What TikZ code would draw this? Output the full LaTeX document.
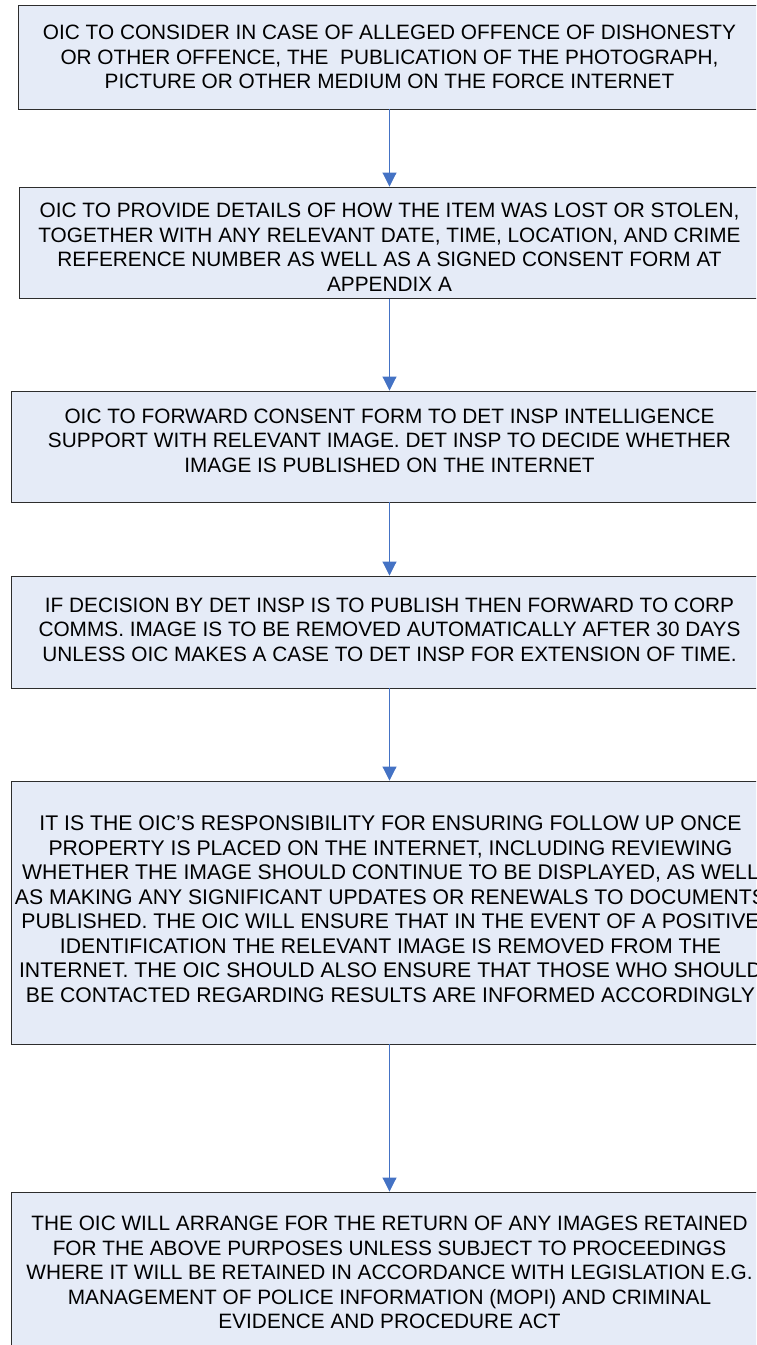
\documentclass[tikz,border=0pt]{standalone}
\usepackage{fontspec}
\setmainfont{Liberation Sans}
\usetikzlibrary{arrows.meta}
\definecolor{boxfill}{RGB}{229,235,247}
\definecolor{boxline}{RGB}{45,45,45}
\definecolor{conncol}{RGB}{68,114,196}
\tikzset{
  box/.style={draw=boxline, fill=boxfill, line width=0.9pt, rectangle, inner sep=0pt},
  txt/.style={align=center, inner sep=0pt, font=\fontsize{20.8}{24.5}\selectfont},
  bigtxt/.style={txt, font=\fontsize{21.2}{24.5}\selectfont},
  conn/.style={draw=conncol, line width=0.9pt, -{Triangle[width=14pt,length=14pt]}}
}
\begin{document}
\begin{tikzpicture}[x=1pt,y=-1pt]
\useasboundingbox (0,0) rectangle (756,1345);
\clip (0,0) rectangle (756,1345);
% boxes (right edges lie beyond the picture)
\node[box, minimum width=782pt, minimum height=104pt] (b1) at (409,57) {};
\node[box, minimum width=781pt, minimum height=111.5pt] (b2) at (409.5,242.75) {};
\node[box, minimum width=789pt, minimum height=111pt] (b3) at (405.5,446.5) {};
\node[box, minimum width=789pt, minimum height=112pt] (b4) at (405.5,632) {};
\node[box, minimum width=789pt, minimum height=263pt] (b5) at (405.5,912.5) {};
\node[box, minimum width=789pt, minimum height=170pt] (b6) at (405.5,1277) {};
% texts
\node[txt] (t1) at (389.5,57) {OIC TO CONSIDER IN CASE OF ALLEGED OFFENCE OF DISHONESTY\\OR OTHER OFFENCE, THE \ PUBLICATION OF THE PHOTOGRAPH,\\PICTURE OR OTHER MEDIUM ON THE FORCE INTERNET};
\node[txt] (t2) at (389.5,247) {OIC TO PROVIDE DETAILS OF HOW THE ITEM WAS LOST OR STOLEN,\\TOGETHER WITH ANY RELEVANT DATE, TIME, LOCATION, AND CRIME\\REFERENCE NUMBER AS WELL AS A SIGNED CONSENT FORM AT\\APPENDIX A};
\node[txt] (t3) at (389.5,440.5) {OIC TO FORWARD CONSENT FORM TO DET INSP INTELLIGENCE\\SUPPORT WITH RELEVANT IMAGE. DET INSP TO DECIDE WHETHER\\IMAGE IS PUBLISHED ON THE INTERNET};
\node[txt] (t4) at (389.5,629.5) {IF DECISION BY DET INSP IS TO PUBLISH THEN FORWARD TO CORP\\COMMS. IMAGE IS TO BE REMOVED AUTOMATICALLY AFTER 30 DAYS\\UNLESS OIC MAKES A CASE TO DET INSP FOR EXTENSION OF TIME.};
\node[bigtxt] (t5) at (390.5,909) {IT IS THE OIC’S RESPONSIBILITY FOR ENSURING FOLLOW UP ONCE\\PROPERTY IS PLACED ON THE INTERNET, INCLUDING REVIEWING\\WHETHER THE IMAGE SHOULD CONTINUE TO BE DISPLAYED, AS WELL\\AS MAKING ANY SIGNIFICANT UPDATES OR RENEWALS TO DOCUMENTS\\PUBLISHED. THE OIC WILL ENSURE THAT IN THE EVENT OF A POSITIVE\\IDENTIFICATION THE RELEVANT IMAGE IS REMOVED FROM THE\\INTERNET. THE OIC SHOULD ALSO ENSURE THAT THOSE WHO SHOULD\\BE CONTACTED REGARDING RESULTS ARE INFORMED ACCORDINGLY};
\node[txt] (t6) at (389.5,1272.5) {THE OIC WILL ARRANGE FOR THE RETURN OF ANY IMAGES RETAINED\\FOR THE ABOVE PURPOSES UNLESS SUBJECT TO PROCEEDINGS\\WHERE IT WILL BE RETAINED IN ACCORDANCE WITH LEGISLATION E.G.\\MANAGEMENT OF POLICE INFORMATION (MOPI) AND CRIMINAL\\EVIDENCE AND PROCEDURE ACT};
% connectors
\draw[conn] (t1 |- b1.south) -- (t2 |- b2.north);
\draw[conn] (t2 |- b2.south) -- (t3 |- b3.north);
\draw[conn] (t3 |- b3.south) -- (t4 |- b4.north);
\draw[conn] (t4 |- b4.south) -- (t6 |- b5.north);
\draw[conn] (t6 |- b5.south) -- (t6 |- b6.north);
\end{tikzpicture}
\end{document}
